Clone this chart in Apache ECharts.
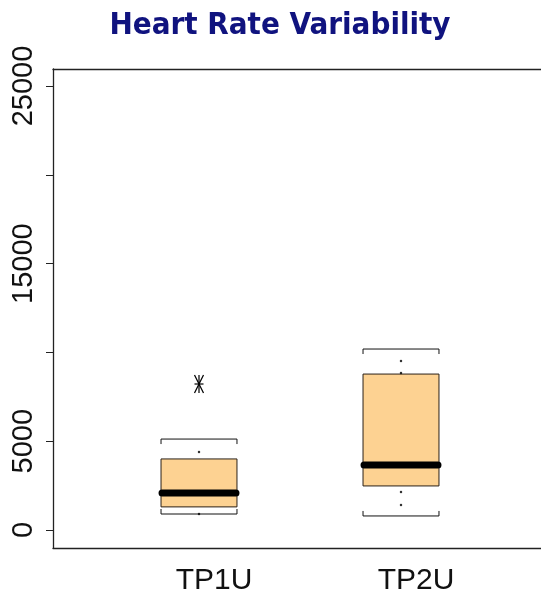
<!DOCTYPE html>
<html>
<head>
<meta charset="utf-8">
<script src="https://cdn.jsdelivr.net/npm/echarts@6/dist/echarts.min.js"></script>
<style>
html,body{margin:0;padding:0;background:#fff;}
#chart{width:541px;height:597px;}
</style>
</head>
<body>
<div id="chart"></div>
<script>
// ---- data ----
const categories = ['TP1U', 'TP2U'];
const lowerCap = [900, 790];
const q1 = [1300, 2480];
const median = [2080, 3660];
const q3 = [4000, 8780];
const upperCap = [5120, 10190];
const outliers = [[0, 8220]];              // [category index, value]
const smallDots = [[0, 4390], [0, 900], [1, 9520], [1, 8840], [1, 2140], [1, 1410]];
const yTicks = [0, 5000, 10000, 15000, 20000, 25000];
const yTickLabels = [0, 5000, 15000, 25000];

const chart = echarts.init(document.getElementById('chart'), null, {renderer: 'canvas'});

const boxData = categories.map((c, i) => [i + 1, lowerCap[i], q1[i], median[i], q3[i], upperCap[i]]);

function renderBox(params, api) {
  const x = api.value(0);
  const halfW = api.size([0.376, 0])[0] / 2;
  const pLow = api.coord([x, api.value(1)]);
  const pQ1 = api.coord([x, api.value(2)]);
  const pMed = api.coord([x, api.value(3)]);
  const pQ3 = api.coord([x, api.value(4)]);
  const pHigh = api.coord([x, api.value(5)]);
  const cx = pMed[0];
  const tick = 5;
  return {
    type: 'group',
    children: [
      {type: 'rect', shape: {x: cx - halfW, y: pQ3[1], width: 2 * halfW, height: pQ1[1] - pQ3[1]},
       style: {fill: '#FDD292', stroke: '#2a2018', lineWidth: 1}},
      {type: 'line', shape: {x1: cx - halfW + 1, y1: pMed[1], x2: cx + halfW - 1, y2: pMed[1]},
       style: {stroke: '#000', lineWidth: 7, lineCap: 'round'}},
      {type: 'polyline', shape: {points: [[cx - halfW, pHigh[1] + tick], [cx - halfW, pHigh[1]], [cx + halfW, pHigh[1]], [cx + halfW, pHigh[1] + tick]]},
       style: {stroke: '#111', lineWidth: 1, fill: null}},
      {type: 'polyline', shape: {points: [[cx - halfW, pLow[1] - tick], [cx - halfW, pLow[1]], [cx + halfW, pLow[1]], [cx + halfW, pLow[1] - tick]]},
       style: {stroke: '#111', lineWidth: 1, fill: null}}
    ]
  };
}

function renderStar(params, api) {
  const p = api.coord([api.value(0), api.value(1)]);
  const w = 4.5, h = 9;
  const s = {stroke: '#000', lineWidth: 1.2};
  return {
    type: 'group',
    children: [
      {type: 'line', shape: {x1: p[0], y1: p[1] - h, x2: p[0], y2: p[1] + h}, style: s},
      {type: 'line', shape: {x1: p[0] - w, y1: p[1], x2: p[0] + w, y2: p[1]}, style: s},
      {type: 'line', shape: {x1: p[0] - w, y1: p[1] - h, x2: p[0] + w, y2: p[1] + h}, style: s},
      {type: 'line', shape: {x1: p[0] - w, y1: p[1] + h, x2: p[0] + w, y2: p[1] - h}, style: s}
    ]
  };
}

const axisLineStyle = {color: '#222', width: 1.3};

const option = {
  backgroundColor: '#fff',
  animation: false,
  title: {
    text: 'Heart Rate Variability',
    left: 275,
    textAlign: 'center',
    top: 5,
    textStyle: {fontFamily: 'DejaVu Sans Condensed', fontWeight: 'bold', fontSize: 31, color: '#10137f'}
  },
  grid: {left: 53, top: 69, right: 0, bottom: 49, show: false},
  xAxis: [{
    type: 'value', min: 1 - 146 / 202, max: 1 + 342 / 202, position: 'bottom',
    axisLine: {show: true, onZero: false, lineStyle: axisLineStyle}, axisTick: {show: false}, splitLine: {show: false},
    axisLabel: {
      customValues: [1, 2],
      formatter: v => categories[Math.round(v) - 1] || '',
      fontFamily: 'Liberation Sans', fontSize: 30, color: '#111', margin: 18,
      padding: [0, 0, 0, 30]
    }
  }, {
    type: 'value', min: 1 - 146 / 202, max: 1 + 342 / 202, position: 'top',
    axisLine: {show: true, onZero: false, lineStyle: axisLineStyle}, axisTick: {show: false},
    axisLabel: {show: false}, splitLine: {show: false}
  }],
  yAxis: {
    type: 'value', min: -1014, max: 25957,
    axisLine: {show: true, onZero: false, lineStyle: axisLineStyle}, splitLine: {show: false},
    axisTick: {show: true, customValues: yTicks, length: 7, lineStyle: {color: '#222'}},
    axisLabel: {
      customValues: yTickLabels, rotate: 90, margin: 15,
      formatter: v => String(v),
      fontFamily: 'Liberation Sans', fontSize: 29, color: '#111'
    }
  },
  series: [
    {type: 'custom', renderItem: renderBox, data: boxData, encode: {x: 0, y: [1, 2, 3, 4, 5]}, z: 2},
    {type: 'scatter', data: smallDots.map(d => [d[0] + 1, d[1]]), symbol: 'circle', symbolSize: 2.5,
     itemStyle: {color: '#000'}, z: 3},
    {type: 'custom', renderItem: renderStar, data: outliers.map(d => [d[0] + 1, d[1]]), encode: {x: 0, y: 1}, z: 3}
  ]
};
chart.setOption(option);
</script>
</body>
</html>
